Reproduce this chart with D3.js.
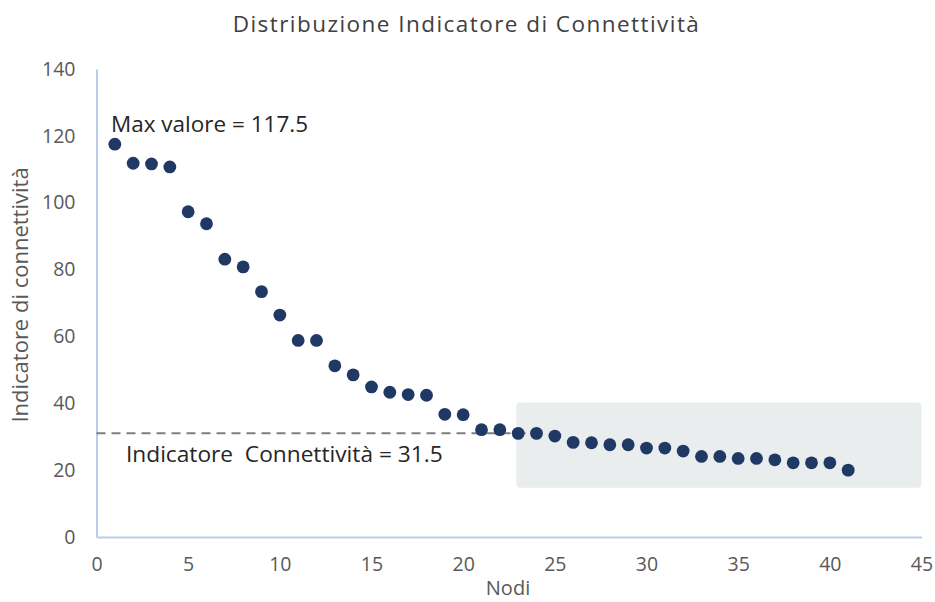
<!DOCTYPE html>
<html>
<head>
<meta charset="utf-8">
<script src="https://cdn.jsdelivr.net/npm/d3@7"></script>
<style>
  html, body { margin: 0; padding: 0; background: #fff; }
  svg { display: block; }
  text { font-family: "Open Sans", "Noto Sans", sans-serif; }
</style>
</head>
<body>
<svg id="chart" width="935" height="602"></svg>
<script>
// ---- data ----
const nodes = d3.range(1, 42);
const values = [117.5, 111.8, 111.6, 110.7, 97.3, 93.7, 83.1, 80.8, 73.4, 66.4,
                58.8, 58.8, 51.2, 48.5, 44.9, 43.3, 42.6, 42.4, 36.7, 36.6,
                32.1, 32.1, 31.0, 31.0, 30.2, 28.3, 28.2, 27.6, 27.6, 26.6,
                26.6, 25.7, 24.1, 24.1, 23.5, 23.5, 23.1, 22.2, 22.2, 22.2, 20.0];
const xTicks = [0, 5, 10, 15, 20, 25, 30, 35, 40, 45];
const yTicks = [0, 20, 40, 60, 80, 100, 120, 140];
const thresholdValue = 31;          // dashed reference line
const thresholdEndNode = 24.2;
const highlightX = [22.9, 45];
const highlightY = [14.7, 40.2];
const titleText = "Distribuzione Indicatore di Connettività";
const xTitle = "Nodi";
const yTitle = "Indicatore di connettività";
const maxLabel = "Max valore = 117.5";
const thrLabel = "Indicatore  Connettività = 31.5";

// ---- layout ----
const svg = d3.select("#chart");
const x = d3.scaleLinear().domain([0, 45]).range([96.5, 921.5]);
const y = d3.scaleLinear().domain([0, 140]).range([537, 69]);
const axisColor = "#b9cde8";
const textColor = "#595959";

// highlight box
svg.append("rect")
  .attr("x", x(highlightX[0]))
  .attr("y", y(highlightY[1]))
  .attr("width", x(highlightX[1]) - x(highlightX[0]))
  .attr("height", y(highlightY[0]) - y(highlightY[1]))
  .attr("rx", 4)
  .attr("fill", "#e9edee");

// axes
const xAxis = svg.append("g")
  .attr("transform", `translate(0,${y(0)})`)
  .call(d3.axisBottom(x).tickValues(xTicks).tickSize(0).tickPadding(20));
const yAxis = svg.append("g")
  .attr("transform", `translate(${x(0)},0)`)
  .call(d3.axisLeft(y).tickValues(yTicks).tickSize(0).tickPadding(21));
[xAxis, yAxis].forEach(g => {
  g.select(".domain").attr("stroke", axisColor).attr("stroke-width", 2);
  g.selectAll("text").attr("fill", textColor).style("font-size", "19.5px")
    .style("font-family", '"Open Sans", sans-serif');
});

// dashed line
svg.append("line")
  .attr("x1", x(0)).attr("x2", x(thresholdEndNode))
  .attr("y1", y(thresholdValue)).attr("y2", y(thresholdValue))
  .attr("stroke", "#7f7f7f").attr("stroke-width", 2)
  .attr("stroke-dasharray", "9,6");

// points
svg.append("g").selectAll("circle")
  .data(nodes.map((n, i) => ({ n, v: values[i] })))
  .join("circle")
  .attr("cx", d => x(d.n))
  .attr("cy", d => y(d.v))
  .attr("r", 6.4)
  .attr("fill", "#203864");

// annotations
svg.append("text")
  .attr("x", 111).attr("y", 131.5)
  .attr("fill", "#262626").style("font-size", "22.5px")
  .text(maxLabel);
svg.append("text")
  .attr("x", 126).attr("y", 462)
  .attr("fill", "#262626").style("font-size", "22.7px")
  .style("white-space", "pre")
  .text(thrLabel);

// titles
svg.append("text")
  .attr("x", 466.5).attr("y", 32)
  .attr("text-anchor", "middle")
  .attr("fill", "#404040").style("font-size", "22.5px")
  .style("letter-spacing", "1.45px")
  .text(titleText);
svg.append("text")
  .attr("x", 508).attr("y", 595)
  .attr("text-anchor", "middle")
  .attr("fill", textColor).style("font-size", "20px")
  .text(xTitle);
svg.append("text")
  .attr("transform", `translate(28,${295}) rotate(-90)`)
  .attr("text-anchor", "middle")
  .attr("fill", textColor).style("font-size", "22px")
  .text(yTitle);
</script>
</body>
</html>
